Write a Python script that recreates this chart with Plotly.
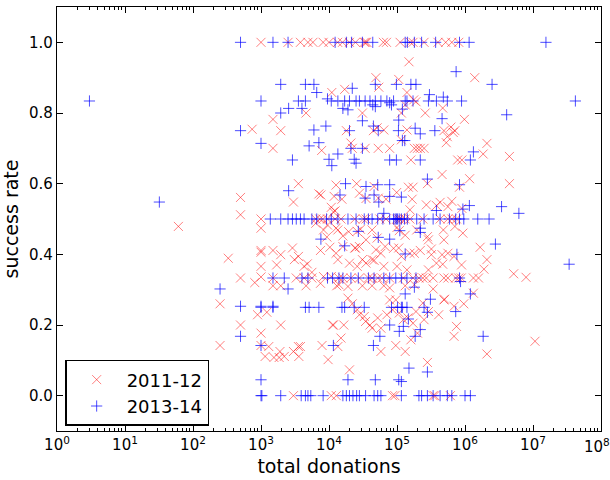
import plotly.graph_objects as go

# ---- data: 2011-12 (red x) ----
don_1112 = [
    1000, 2500, 3800, 4900, 5800, 8200, 10000, 13400, 15800, 20000, 24500, 33000, 34500, 36000, 63000, 70000,
    111000, 157000, 172000, 250000, 400000, 520000, 640000, 810000,
    3000, 10800, 12800, 86000, 93000, 340000, 360000, 610000,
    20000, 9700, 280000,
    150000, 1390000, 49000, 106000, 54000, 11000, 17000, 140000, 176000, 190000, 132000, 470000, 116000, 31000, 4600,
    1500, 980000, 740, 1950, 18000, 45000, 51000, 64000, 140000, 490000, 670000, 710000, 550000, 530000,
    7800, 1500, 21000, 22000, 34000, 53000, 78000, 116000, 180000, 200000, 220000, 250000,
    160000, 780000, 900000, 2100000, 1850000, 4500000, 260000, 620000,
    1000, 6400, 7300, 8100, 9500, 12300, 15000, 24000, 32000, 35000, 56000, 69000, 99000, 107000, 116000, 132000,
    155000, 240000, 430000, 560000, 640000, 750000,
    500, 500, 3550, 3000, 7100, 7600, 12700, 11900, 15500, 25500, 28000, 35000, 46000, 53000, 69000, 99000,
    147000, 167000, 172000, 280000, 460000, 270000, 640000, 830000, 1170000, 4500000, 380000, 430000, 560000,
    900000, 12300, 10800,
    61, 1000, 6400, 8300, 9500, 9300, 10300, 11600, 12700, 13500, 16000, 19500, 26000, 29000, 43000, 51000,
    67000, 100000, 108000, 132000, 155000, 195000, 280000, 290000, 480000, 490000, 710000, 930000, 1670000,
    106000, 320000, 28000, 35000, 49000, 24000, 155000,
    330, 1000, 1000, 1000, 1000, 1500, 1700, 1950, 2900, 3100, 3550, 4300, 4800, 5600, 7500, 8300, 10800,
    12700, 13500, 16000, 20000, 24500, 26000, 31000, 35000, 43000, 46000, 58000, 64000, 89000, 100000, 116000,
    140000, 180000, 220000, 290000, 320000, 380000, 460000, 470000, 560000, 690000, 890000, 1330000, 1900000,
    2100000, 5200000, 7900000,
    500, 1500, 3300, 4300, 5600, 14000, 16000, 21000, 28000, 38000, 43000, 52000, 60000, 78000, 124000, 172000,
    210000, 240000, 270000, 340000, 490000, 560000, 730000, 810000, 880000, 1580000,
    810, 1500, 1950, 4600, 7500, 13000, 14000, 19000, 31000, 43000, 64000, 78000, 132000, 180000, 340000, 500000,
    250, 250, 500, 890, 1000, 1220, 1950, 11600, 16500, 19000, 22000, 26000, 28000, 33000, 34500, 40000, 43000,
    52000, 58000, 71000, 78000, 86000, 96000, 108000, 124000, 145000, 172000, 190000, 200000, 240000, 250000,
    290000, 410000, 490000, 690000, 750000, 960000, 1330000,
    1000, 1300, 1150, 1550, 1850, 2200, 1900, 3000, 3550, 3800, 3600, 7900, 11300, 13500, 15000, 58000, 96000,
    132000, 160000, 690000, 2100000, 10700000,
]
rate_1112 = [
    1.0, 1.0, 1.0, 1.0, 1.0, 1.0, 1.0, 1.0, 1.0, 1.0, 1.0, 1.0, 1.0, 1.0, 1.0, 1.0,
    1.0, 1.0, 1.0, 1.0, 1.0, 1.0, 1.0, 1.0,
    0.0, 0.0, 0.0, 0.0, 0.0, 0.0, 0.0, 0.0,
    0.073, 0.102, 0.094,
    0.945, 0.90, 0.90, 0.895, 0.873, 0.858, 0.867, 0.858, 0.837, 0.832, 0.823, 0.814, 0.80, 0.80, 0.80,
    0.782, 0.782, 0.754, 0.75, 0.75, 0.75, 0.758, 0.752, 0.752, 0.75, 0.745, 0.75, 0.733, 0.716,
    0.694, 0.70, 0.715, 0.70, 0.70, 0.70, 0.70, 0.724, 0.70, 0.70, 0.70, 0.70,
    0.667, 0.667, 0.667, 0.714, 0.684, 0.677, 0.80, 0.76,
    0.5, 0.5, 0.5, 0.5, 0.5, 0.5, 0.5, 0.5, 0.5, 0.5, 0.5, 0.5, 0.5, 0.5, 0.5, 0.5,
    0.5, 0.5, 0.5, 0.5, 0.5, 0.5,
    0.561, 0.512, 0.60, 0.548, 0.571, 0.568, 0.596, 0.564, 0.556, 0.60, 0.573, 0.558, 0.592, 0.559, 0.556, 0.575,
    0.59, 0.556, 0.59, 0.60, 0.626, 0.54, 0.55, 0.59, 0.614, 0.60, 0.538, 0.547, 0.535,
    0.53, 0.523, 0.533,
    0.479, 0.474, 0.488, 0.469, 0.483, 0.449, 0.42, 0.52, 0.474, 0.469, 0.452, 0.464, 0.465, 0.471, 0.469, 0.446,
    0.422, 0.476, 0.467, 0.454, 0.526, 0.469, 0.45, 0.441, 0.469, 0.441, 0.479, 0.46, 0.42,
    0.418, 0.415, 0.422, 0.441, 0.413, 0.418, 0.403,
    0.389, 0.411, 0.406, 0.366, 0.336, 0.411, 0.37, 0.399, 0.418, 0.385, 0.394, 0.366, 0.373, 0.349, 0.411, 0.337, 0.337,
    0.403, 0.385, 0.422, 0.375, 0.418, 0.366, 0.385, 0.375, 0.385, 0.383, 0.403, 0.366, 0.417, 0.366, 0.394,
    0.356, 0.403, 0.411, 0.356, 0.399, 0.375, 0.399, 0.372, 0.403, 0.394, 0.37, 0.333, 0.358,
    0.385, 0.345, 0.335,
    0.333, 0.333, 0.333, 0.333, 0.333, 0.333, 0.333, 0.333, 0.333, 0.333, 0.333, 0.333, 0.333, 0.333, 0.333, 0.333,
    0.333, 0.333, 0.333, 0.333, 0.333, 0.333, 0.333, 0.333, 0.333, 0.333,
    0.32, 0.311, 0.311, 0.311, 0.318, 0.311, 0.314, 0.309, 0.311, 0.311, 0.311, 0.305, 0.311, 0.314, 0.302, 0.273,
    0.26, 0.142, 0.20, 0.229, 0.177, 0.236, 0.20, 0.20, 0.20, 0.276, 0.26, 0.243, 0.229, 0.224, 0.21, 0.20, 0.191,
    0.22, 0.191, 0.229, 0.271, 0.243, 0.271, 0.234, 0.215, 0.22, 0.205, 0.238, 0.177, 0.262, 0.215,
    0.238, 0.229, 0.271, 0.253, 0.196, 0.26, 0.29,
    0.142, 0.139, 0.111, 0.108, 0.108, 0.111, 0.125, 0.125, 0.139, 0.139, 0.111, 0.142, 0.20, 0.139, 0.163, 0.125, 0.142,
    0.125, 0.158, 0.168, 0.118, 0.154,
]

# ---- data: 2013-14 (blue +) ----
don_1314 = [
    500, 1500, 2500, 12300, 18000, 21500, 31000, 44000, 132000, 142000, 180000, 230000, 370000, 830000, 1150000, 15500000,
    1000, 1030, 1950, 3900, 4500, 4900, 5400, 8200, 16000, 18000, 20000, 22500, 25500, 28000, 34500, 46000, 52000,
    58000, 116000, 210000, 230000, 280000, 340000, 430000, 550000, 640000, 1000000, 1200000,
    1000, 19000, 48000, 106000, 116000, 150000, 280000,
    3.0, 1950, 4500, 6000, 22000, 48000, 98000, 160000, 190000, 740000, 2500000, 42000000, 4100000,
    1000, 2550, 1950, 3550, 4500, 6600, 9500,
    10800, 13500, 17000, 20000, 25000, 28000, 34000, 40000, 48000, 58000, 71000, 89000, 132000, 140000, 172000,
    290000, 380000, 550000, 890000,
    16000, 19000, 4000, 44000, 48000, 78000, 83000, 120000, 300000, 480000, 106000, 31000, 9000, 6000, 500, 20000,
    53000, 45000, 105000, 185000, 220000, 360000, 460000,
    1000, 2900, 5100, 7100, 10000, 11000, 13500, 21000, 23500, 25000, 31000, 78000, 98000, 220000, 1200000, 1330000,
    280000, 6200000, 3450000, 2800000, 34000000, 32, 1850000, 1200000, 120000, 130000,
    1370, 1950, 2500, 2900, 3300, 3800, 4300, 5600, 6600, 9200, 10800, 13500, 19000, 25000, 33000, 38000, 43000,
    52000, 62000, 78000, 89000, 94000, 98000, 102000, 108000, 116000, 129000, 142000, 195000, 250000, 340000,
    430000, 590000, 730000, 830000, 960000, 1540000, 2260000,
    2550, 17500, 14500, 35000, 34000, 46000, 54000, 64000, 52000, 78000, 78000, 116000, 830000, 930000, 1160000, 380000,
    7600, 17000, 27000, 53000, 110000, 220000, 220000, 760000, 132000, 78000,
    250, 500, 500, 1000, 1500, 2500,
    1500, 2200, 4000, 4900, 9500, 11300, 14000, 16000, 21000, 27000, 38000, 46000, 64000, 78000, 96000, 116000,
    140000, 190000, 830000,
    1000, 1500, 4500, 5100, 7100, 15500, 17000, 23500, 33000, 83000, 102000, 116000, 120000, 140000, 250000,
    1000, 11600, 45000, 56000, 78000, 108000, 124000, 147000, 185000, 220000, 280000, 310000, 730000, 860000,
    132000, 180000,
]
rate_1314 = [
    1.0, 1.0, 1.0, 1.0, 1.0, 1.0, 1.0, 1.0, 1.0, 1.0, 1.0, 1.0, 1.0, 1.0, 1.0, 1.0,
    0.0, 0.0, 0.0, 0.0, 0.0, 0.0, 0.0, 0.0, 0.0, 0.0, 0.0, 0.0, 0.0, 0.0, 0.0, 0.0, 0.0,
    0.0, 0.0, 0.0, 0.0, 0.0, 0.0, 0.0, 0.0, 0.0, 0.0, 0.0,
    0.045, 0.045, 0.045, 0.045, 0.04, 0.078, 0.067,
    0.834, 0.881, 0.881, 0.881, 0.87, 0.881, 0.881, 0.881, 0.881, 0.917, 0.881, 0.834, 0.795,
    0.834, 0.813, 0.80, 0.834, 0.834, 0.858, 0.84,
    0.834, 0.834, 0.834, 0.834, 0.834, 0.834, 0.834, 0.834, 0.834, 0.834, 0.834, 0.834, 0.834, 0.834, 0.834,
    0.834, 0.834, 0.834, 0.834,
    0.813, 0.809, 0.813, 0.823, 0.818, 0.829, 0.823, 0.811, 0.852, 0.845, 0.78, 0.778, 0.763, 0.752, 0.75, 0.75,
    0.75, 0.763, 0.75, 0.757, 0.741, 0.75, 0.784,
    0.714, 0.667, 0.707, 0.716, 0.669, 0.651, 0.684, 0.70, 0.669, 0.658, 0.70, 0.667, 0.667, 0.667, 0.667, 0.69,
    0.613, 0.516, 0.535, 0.429, 0.372, 0.548, 0.168, 0.288, 0.722, 0.722,
    0.5, 0.5, 0.5, 0.5, 0.5, 0.5, 0.5, 0.5, 0.5, 0.5, 0.5, 0.5, 0.5, 0.5, 0.5, 0.5, 0.5,
    0.5, 0.5, 0.5, 0.5, 0.5, 0.5, 0.5, 0.5, 0.5, 0.5, 0.5, 0.5, 0.5, 0.5,
    0.5, 0.5, 0.5, 0.5, 0.5, 0.5, 0.5,
    0.58, 0.60, 0.568, 0.592, 0.559, 0.568, 0.548, 0.516, 0.597, 0.597, 0.564, 0.562, 0.597, 0.528, 0.538, 0.524,
    0.443, 0.424, 0.465, 0.448, 0.467, 0.462, 0.474, 0.40, 0.401, 0.443,
    0.302, 0.253, 0.168, 0.253, 0.253, 0.302,
    0.333, 0.333, 0.333, 0.333, 0.333, 0.333, 0.333, 0.333, 0.333, 0.333, 0.333, 0.333, 0.333, 0.333, 0.333, 0.333,
    0.333, 0.333, 0.333,
    0.25, 0.25, 0.25, 0.25, 0.25, 0.25, 0.25, 0.25, 0.25, 0.25, 0.25, 0.25, 0.25, 0.25, 0.25,
    0.142, 0.142, 0.142, 0.168, 0.20, 0.182, 0.196, 0.217, 0.168, 0.187, 0.236, 0.273, 0.238, 0.323,
    0.288, 0.307,
]

series_names = ["2011-12", "2013-14"]
x_tick_vals = [1, 10, 100, 1000, 10000, 100000, 1000000, 10000000]
x_tick_text = ["10<sup>0</sup>", "10<sup>1</sup>", "10<sup>2</sup>", "10<sup>3</sup>", "10<sup>4</sup>",
               "10<sup>5</sup>", "10<sup>6</sup>", "10<sup>7</sup>"]
x_last_tick_text = "10<sup>8</sup>"
y_tick_vals = [0.0, 0.2, 0.4, 0.6, 0.8, 1.0]

minor_vals = [m * d for d in [1, 10, 100, 1000, 10000, 100000, 1000000, 10000000] for m in range(2, 10)]

fig = go.Figure()
fig.add_trace(go.Scatter(
    x=don_1112, y=rate_1112, mode="markers", name=series_names[0],
    marker=dict(symbol="x-thin", size=9, color="rgba(0,0,0,0)",
                line=dict(color="rgba(255,0,0,0.5)", width=1)),
))
fig.add_trace(go.Scatter(
    x=don_1314, y=rate_1314, mode="markers", name=series_names[1],
    marker=dict(symbol="cross-thin", size=8, color="rgba(0,0,0,0)",
                line=dict(color="rgba(0,0,255,0.7)", width=1)),
))

font = "DejaVu Sans, Liberation Sans, sans-serif"
fig.update_layout(
    width=610, height=480,
    margin=dict(l=57, r=9, t=7, b=49),
    paper_bgcolor="white", plot_bgcolor="white",
    font=dict(family=font, size=15, color="black"),
    showlegend=True,
    legend=dict(x=0.015, y=0.012, xanchor="left", yanchor="bottom",
                bordercolor="black", borderwidth=1.5, bgcolor="white",
                font=dict(size=18), itemwidth=50, tracegroupgap=0),
    xaxis=dict(
        type="log", range=[0, 8],
        tickvals=x_tick_vals, ticktext=x_tick_text,
        ticks="inside", ticklen=6, tickwidth=1, tickcolor="black",
        showline=True, linecolor="black", linewidth=1.2, mirror="ticks",
        showgrid=False, zeroline=False,
        minor=dict(tickvals=minor_vals, ticks="inside", ticklen=3, tickcolor="black", showgrid=False),
        title=dict(text="total donations", font=dict(size=19), standoff=6),
        tickfont=dict(size=15),
    ),
    yaxis=dict(
        range=[-0.1, 1.1],
        tickvals=y_tick_vals, tickformat=".1f",
        ticks="inside", ticklen=6, tickwidth=1, tickcolor="black",
        showline=True, linecolor="black", linewidth=1.2, mirror="ticks",
        showgrid=False, zeroline=False,
        title=dict(text="success rate", font=dict(size=19), standoff=10),
        tickfont=dict(size=15),
    ),
    annotations=[dict(
        x=1, y=0, xref="paper", yref="paper", text=x_last_tick_text,
        showarrow=False, yanchor="top", xanchor="center", yshift=-3, xshift=-4,
        font=dict(size=15, family=font, color="black"),
    )],
)

fig.write_html("out.html")
